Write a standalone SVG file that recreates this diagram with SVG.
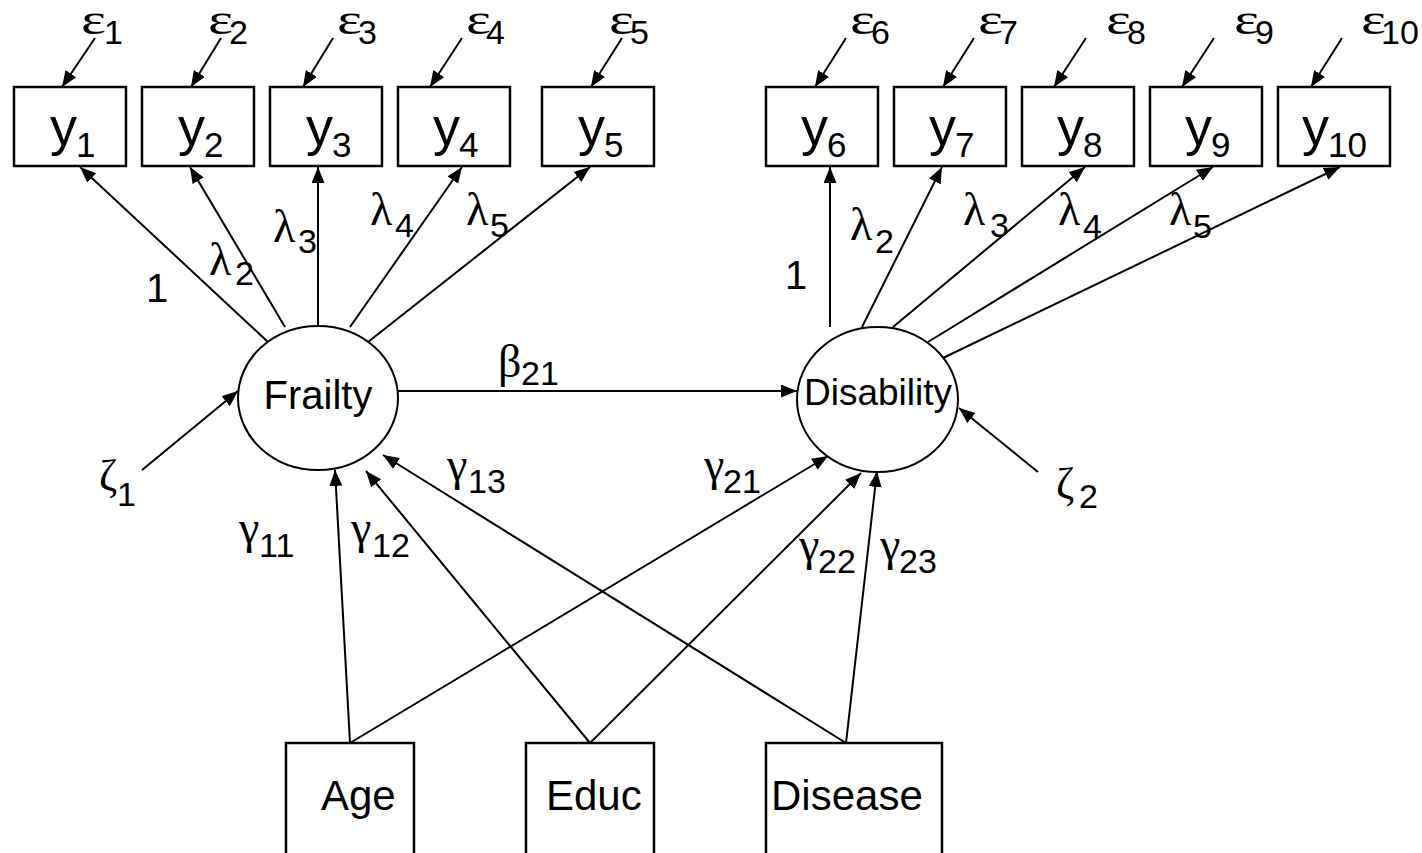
<svg xmlns="http://www.w3.org/2000/svg" width="1422" height="853" viewBox="0 0 1422 853">
<style>
.box{fill:#fff;stroke:#000;stroke-width:2.5}
.lat{fill:#fff;stroke:#000;stroke-width:2}
.ln{stroke:#000;stroke-width:2;fill:none;marker-end:url(#ah)}
text{font-family:"Liberation Sans",Arial,sans-serif;fill:#000}
.gk{font-family:"Liberation Serif","Times New Roman",serif;font-size:46px}
.ek{font-family:"Liberation Serif","Times New Roman",serif;font-size:44px}
.zk{font-family:"Liberation Serif","Times New Roman",serif;font-size:44px}
.sub{font-family:"Liberation Sans",Arial,sans-serif;font-size:34px}
.yv{font-size:54px}
.ys{font-size:35px}
.lbl{font-size:40px}
.obs{font-size:42px}
</style>
<defs>
<marker id="ah" markerUnits="userSpaceOnUse" markerWidth="18" markerHeight="14" refX="16" refY="6.5" orient="auto">
<path d="M0,0 L16,6.5 L0,13 z" fill="#000"/>
</marker>
</defs>

<g id="connectors">
<line class="ln" x1="95" y1="38" x2="62" y2="87"/>
<line class="ln" x1="221" y1="38" x2="191" y2="87"/>
<line class="ln" x1="333" y1="38" x2="303" y2="87"/>
<line class="ln" x1="462" y1="38" x2="430" y2="87"/>
<line class="ln" x1="622" y1="38" x2="591" y2="87"/>
<line class="ln" x1="846" y1="38" x2="815" y2="87"/>
<line class="ln" x1="974" y1="38" x2="943" y2="87"/>
<line class="ln" x1="1086" y1="38" x2="1054" y2="87"/>
<line class="ln" x1="1214" y1="38" x2="1182" y2="87"/>
<line class="ln" x1="1342" y1="38" x2="1311" y2="87"/>

<line class="ln" x1="268" y1="342" x2="80" y2="167"/>
<line class="ln" x1="285" y1="327" x2="190" y2="167"/>
<line class="ln" x1="318" y1="326" x2="318" y2="167"/>
<line class="ln" x1="350" y1="327" x2="462" y2="167"/>
<line class="ln" x1="368" y1="342" x2="590" y2="167"/>

<line class="ln" x1="830" y1="327" x2="830" y2="167"/>
<line class="ln" x1="862" y1="327" x2="942" y2="167"/>
<line class="ln" x1="893" y1="327" x2="1085" y2="167"/>
<line class="ln" x1="928" y1="342" x2="1213" y2="167"/>
<line class="ln" x1="943" y1="358" x2="1340" y2="167"/>

<line class="ln" x1="398" y1="391" x2="797" y2="391"/>
<line class="ln" x1="142" y1="470" x2="238" y2="391"/>
<line class="ln" x1="1038" y1="472" x2="959" y2="408"/>

<line class="ln" x1="350" y1="743" x2="335" y2="470"/>
<line class="ln" x1="590" y1="743" x2="366" y2="471"/>
<line class="ln" x1="846" y1="743" x2="383" y2="455"/>
<line class="ln" x1="350" y1="743" x2="828" y2="456"/>
<line class="ln" x1="590" y1="743" x2="861" y2="473"/>
<line class="ln" x1="846" y1="743" x2="877" y2="471"/>
</g>

<g id="y1"><rect class="box" x="14" y="87" width="112" height="79"/><text x="50" y="145"><tspan class="yv">y</tspan><tspan class="ys" x="76" y="157">1</tspan></text></g>
<g id="y2"><rect class="box" x="142" y="87" width="112" height="79"/><text x="178" y="145"><tspan class="yv">y</tspan><tspan class="ys" x="204" y="157">2</tspan></text></g>
<g id="y3"><rect class="box" x="270" y="87" width="112" height="79"/><text x="306" y="145"><tspan class="yv">y</tspan><tspan class="ys" x="332" y="157">3</tspan></text></g>
<g id="y4"><rect class="box" x="398" y="87" width="112" height="79"/><text x="433" y="145"><tspan class="yv">y</tspan><tspan class="ys" x="459" y="157">4</tspan></text></g>
<g id="y5"><rect class="box" x="542" y="87" width="112" height="79"/><text x="578" y="145"><tspan class="yv">y</tspan><tspan class="ys" x="604" y="157">5</tspan></text></g>
<g id="y6"><rect class="box" x="766" y="87" width="112" height="79"/><text x="801" y="145"><tspan class="yv">y</tspan><tspan class="ys" x="827" y="157">6</tspan></text></g>
<g id="y7"><rect class="box" x="894" y="87" width="112" height="79"/><text x="929" y="145"><tspan class="yv">y</tspan><tspan class="ys" x="955" y="157">7</tspan></text></g>
<g id="y8"><rect class="box" x="1022" y="87" width="112" height="79"/><text x="1057" y="145"><tspan class="yv">y</tspan><tspan class="ys" x="1083" y="157">8</tspan></text></g>
<g id="y9"><rect class="box" x="1150" y="87" width="112" height="79"/><text x="1185" y="145"><tspan class="yv">y</tspan><tspan class="ys" x="1211" y="157">9</tspan></text></g>
<g id="y10"><rect class="box" x="1278" y="87" width="112" height="79"/><text x="1302" y="145"><tspan class="yv">y</tspan><tspan class="ys" x="1328" y="157">10</tspan></text></g>

<g id="eps">
<text x="81" y="34"><tspan class="ek" textLength="25" lengthAdjust="spacingAndGlyphs">ε</tspan><tspan class="sub" x="104" y="44">1</tspan></text>
<text x="208" y="34"><tspan class="ek" textLength="25" lengthAdjust="spacingAndGlyphs">ε</tspan><tspan class="sub" x="229" y="44">2</tspan></text>
<text x="337" y="34"><tspan class="ek" textLength="25" lengthAdjust="spacingAndGlyphs">ε</tspan><tspan class="sub" x="358" y="44">3</tspan></text>
<text x="466" y="34"><tspan class="ek" textLength="25" lengthAdjust="spacingAndGlyphs">ε</tspan><tspan class="sub" x="486" y="44">4</tspan></text>
<text x="609" y="34"><tspan class="ek" textLength="25" lengthAdjust="spacingAndGlyphs">ε</tspan><tspan class="sub" x="630" y="44">5</tspan></text>
<text x="850" y="34"><tspan class="ek" textLength="25" lengthAdjust="spacingAndGlyphs">ε</tspan><tspan class="sub" x="871" y="44">6</tspan></text>
<text x="978" y="34"><tspan class="ek" textLength="25" lengthAdjust="spacingAndGlyphs">ε</tspan><tspan class="sub" x="999" y="44">7</tspan></text>
<text x="1106" y="34"><tspan class="ek" textLength="25" lengthAdjust="spacingAndGlyphs">ε</tspan><tspan class="sub" x="1127" y="44">8</tspan></text>
<text x="1234" y="34"><tspan class="ek" textLength="25" lengthAdjust="spacingAndGlyphs">ε</tspan><tspan class="sub" x="1255" y="44">9</tspan></text>
<text x="1361" y="34"><tspan class="ek" textLength="25" lengthAdjust="spacingAndGlyphs">ε</tspan><tspan class="sub" x="1381" y="44">10</tspan></text>
</g>

<g id="Frailty"><ellipse class="lat" cx="318" cy="398" rx="80" ry="72"/><text class="lbl" x="318" y="409" text-anchor="middle">Frailty</text></g>
<g id="Disability"><ellipse class="lat" cx="877.5" cy="399.5" rx="80.5" ry="72.5"/><text x="878" y="405" text-anchor="middle" font-size="37">Disability</text></g>

<g id="Age"><rect class="box" x="286" y="743" width="128" height="130"/><text class="obs" x="321" y="810">Age</text></g>
<g id="Educ"><rect class="box" x="526" y="743" width="128" height="130"/><text class="obs" x="546" y="810">Educ</text></g>
<g id="Disease"><rect class="box" x="766" y="743" width="176" height="130"/><text class="obs" x="771" y="810">Disease</text></g>

<g id="labels">
<text class="lbl" x="146" y="302">1</text>
<text class="lbl" x="785" y="289">1</text>
<text x="209" y="275"><tspan class="gk">λ</tspan><tspan class="sub" x="235" y="285">2</tspan></text>
<text x="273" y="242"><tspan class="gk">λ</tspan><tspan class="sub" x="298" y="253">3</tspan></text>
<text x="370" y="225"><tspan class="gk">λ</tspan><tspan class="sub" x="395" y="237">4</tspan></text>
<text x="466" y="225"><tspan class="gk">λ</tspan><tspan class="sub" x="490" y="237">5</tspan></text>
<text x="850" y="240"><tspan class="gk">λ</tspan><tspan class="sub" x="875" y="253">2</tspan></text>
<text x="963" y="225"><tspan class="gk">λ</tspan><tspan class="sub" x="990" y="237">3</tspan></text>
<text x="1058" y="225"><tspan class="gk">λ</tspan><tspan class="sub" x="1083" y="238">4</tspan></text>
<text x="1169" y="225"><tspan class="gk">λ</tspan><tspan class="sub" x="1193" y="238">5</tspan></text>
<text x="498" y="377"><tspan class="gk">β</tspan><tspan class="sub" x="521" y="385">21</tspan></text>
<text x="99" y="490"><tspan class="zk">ζ</tspan><tspan class="sub" x="117" y="506">1</tspan></text>
<text x="1056" y="498"><tspan class="zk">ζ</tspan><tspan class="sub" x="1079" y="508">2</tspan></text>
<text x="239" y="543"><tspan class="gk">γ</tspan><tspan class="sub" x="259" y="557">11</tspan></text>
<text x="351" y="543"><tspan class="gk">γ</tspan><tspan class="sub" x="372" y="557">12</tspan></text>
<text x="447" y="480"><tspan class="gk">γ</tspan><tspan class="sub" x="468" y="493">13</tspan></text>
<text x="704" y="480"><tspan class="gk">γ</tspan><tspan class="sub" x="723" y="493">21</tspan></text>
<text x="799" y="560"><tspan class="gk">γ</tspan><tspan class="sub" x="818" y="573">22</tspan></text>
<text x="880" y="560"><tspan class="gk">γ</tspan><tspan class="sub" x="899" y="573">23</tspan></text>
</g>
</svg>
